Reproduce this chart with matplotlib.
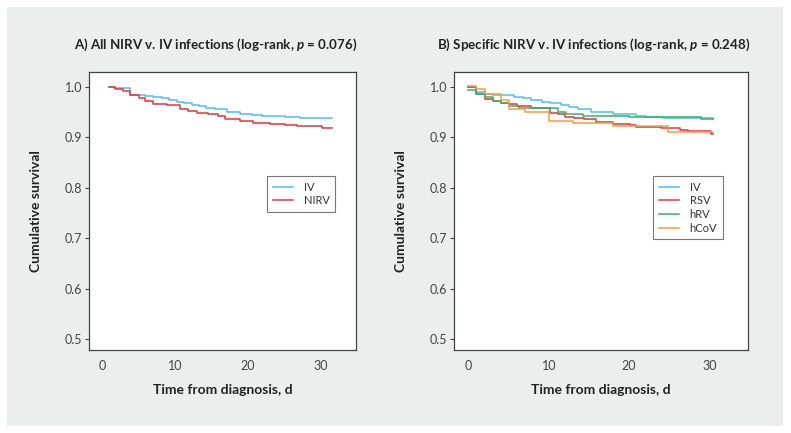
import matplotlib
matplotlib.use("Agg")
from matplotlib import pyplot as plt
from matplotlib.patches import Rectangle

plt.rcParams['font.family'] = ['Lato', 'DejaVu Sans']
plt.rcParams['mathtext.fontset'] = 'custom'
plt.rcParams['mathtext.it'] = 'Lato:italic:bold'

# panel A: all NIRV v. IV
iv_a_t = [1, 1.8, 3.8, 5.9, 7.0, 8.2, 9.1, 10.2, 11.2, 12.3, 13.3, 14.3, 15.5, 17.1, 18.9, 20.5, 21.9, 23.0, 25.1, 27.1, 31.5]
iv_a_s = [1.0, 0.998, 0.984, 0.983, 0.981, 0.978, 0.975, 0.971, 0.968, 0.965, 0.962, 0.959, 0.956, 0.951, 0.947, 0.945, 0.943, 0.942, 0.940, 0.938, 0.938]
nirv_t = [1, 1.8, 2.9, 3.8, 5.0, 5.9, 7.0, 8.9, 10.7, 11.8, 13.0, 14.5, 15.9, 16.8, 18.9, 20.7, 23.0, 25.1, 26.7, 30.1, 31.5]
nirv_s = [1.0, 0.997, 0.992, 0.984, 0.979, 0.973, 0.967, 0.964, 0.957, 0.953, 0.949, 0.946, 0.942, 0.936, 0.933, 0.929, 0.927, 0.925, 0.923, 0.919, 0.919]

# panel B: specific NIRV v. IV
iv_b_t = [0, 1.0, 2.0, 3.0, 5.7, 6.8, 7.8, 9.1, 10.2, 11.5, 12.5, 13.6, 15.3, 18.0, 20.9, 22.1, 24.2, 30.5]
iv_b_s = [1.0, 0.991, 0.987, 0.984, 0.981, 0.978, 0.974, 0.971, 0.968, 0.964, 0.961, 0.957, 0.951, 0.946, 0.943, 0.940, 0.938, 0.936]
rsv_t = [0, 1.0, 2.0, 3.0, 4.1, 5.1, 6.1, 7.8, 10.1, 11.1, 12.0, 13.2, 14.4, 15.9, 18.0, 20.1, 20.9, 24.0, 26.3, 27.3, 30.2, 30.5]
rsv_s = [1.0, 0.987, 0.976, 0.973, 0.969, 0.966, 0.962, 0.958, 0.949, 0.946, 0.941, 0.939, 0.936, 0.931, 0.926, 0.924, 0.921, 0.918, 0.915, 0.912, 0.907, 0.907]
hrv_t = [0, 1.0, 2.0, 3.0, 4.1, 5.1, 6.3, 11.1, 12.2, 14.2, 20.0, 29.0, 30.5]
hrv_s = [0.994, 0.986, 0.981, 0.973, 0.968, 0.962, 0.958, 0.951, 0.946, 0.942, 0.940, 0.936, 0.936]
hcov_t = [0, 1.0, 2.0, 4.1, 5.0, 7.0, 10.0, 13.0, 18.0, 24.8, 30.5]
hcov_s = [1.002, 0.997, 0.986, 0.974, 0.956, 0.950, 0.933, 0.928, 0.923, 0.911, 0.911]

c_iv = '#4cc1ef'
c_red = '#e8333d'
c_green = '#2fb56e'
c_orange = '#f29b45'

fig = plt.figure(figsize=(7.91, 4.33), dpi=100)
fig.patches.append(Rectangle((7 / 791, 7 / 433), 776 / 791, 419 / 433, transform=fig.transFigure,
                             facecolor='#eceeed', edgecolor='none', zorder=-10))

ax1 = fig.add_axes([89 / 791, 83 / 433, 267 / 791, 278 / 433])
ax2 = fig.add_axes([454 / 791, 83 / 433, 294 / 791, 278 / 433])

ax1.step(iv_a_t, iv_a_s, where='post', color=c_iv, lw=1.1, label='IV')
ax1.step(nirv_t, nirv_s, where='post', color=c_red, lw=1.1, label='NIRV')

ax2.step(iv_b_t, iv_b_s, where='post', color=c_iv, lw=1.1, label='IV')
ax2.step(rsv_t, rsv_s, where='post', color=c_red, lw=1.1, label='RSV')
ax2.step(hrv_t, hrv_s, where='post', color=c_green, lw=1.1, label='hRV')
ax2.step(hcov_t, hcov_s, where='post', color=c_orange, lw=1.1, label='hCoV')

titles = ['A) All NIRV v. IV infections (log-rank, $\\mathit{p}$ = 0.076)',
          'B) Specific NIRV v. IV infections (log-rank, $\\mathit{p}$ = 0.248)']
title_x = [0.474, 0.476]
legend_x = [0.667, 0.677]

for ax, title, tx, lx in zip([ax1, ax2], titles, title_x, legend_x):
    ax.set_xlim(-1.8, 34.8)
    ax.set_ylim(0.478, 1.03)
    ax.set_xticks([0, 10, 20, 30])
    ax.set_yticks([0.5, 0.6, 0.7, 0.8, 0.9, 1.0])
    ax.set_yticklabels(['0.5', '0.6', '0.7', '0.8', '0.9', '1.0'])
    ax.tick_params(axis='y', length=3, width=0.8, color='#444444', labelsize=9, labelcolor='#444444', pad=2)
    ax.tick_params(axis='x', length=0, labelsize=9, labelcolor='#444444', pad=7)
    for s in ax.spines.values():
        s.set_color('#444444')
        s.set_linewidth(0.9)
    ax.set_title(title, fontsize=9.6, fontweight='bold', color='#222222', pad=17, x=tx)
    ax.set_xlabel('Time from diagnosis, d', fontsize=10, fontweight='bold', color='#222222', labelpad=9)
    ax.set_ylabel('Cumulative survival', fontsize=10, fontweight='bold', color='#222222', labelpad=16)
    leg = ax.legend(loc='upper left', bbox_to_anchor=(lx, 0.626), fontsize=8, frameon=True, fancybox=False,
                    handlelength=1.8, borderpad=0.5, labelspacing=0.25, handletextpad=1.0, borderaxespad=0)
    leg.get_frame().set_edgecolor('#555555')
    leg.get_frame().set_linewidth(0.8)
    for t in leg.get_texts():
        t.set_color('#333333')

fig.savefig('out.png', dpi=100)
